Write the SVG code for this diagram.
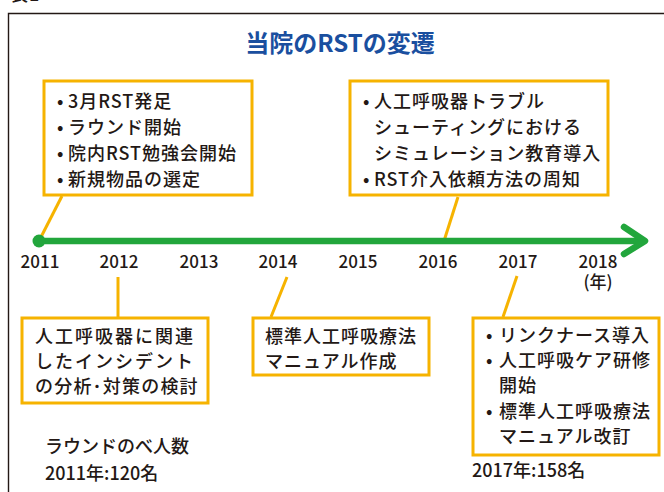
<svg xmlns="http://www.w3.org/2000/svg" width="664" height="492" viewBox="0 0 664 492">
<style>
.t{font-family:"Noto Sans CJK JP","Noto Sans",sans-serif;font-weight:500;fill:#231815;font-size:18px;letter-spacing:1px}
.yr{font-family:"Noto Sans CJK JP","Noto Sans",sans-serif;font-weight:500;fill:#231815;font-size:17px;text-anchor:middle}
.box{fill:#fff;stroke:#f6b300;stroke-width:3}
.con{stroke:#f6b300;stroke-width:3;fill:none}
.title{font-family:"Noto Sans CJK JP","Noto Sans",sans-serif;font-weight:700;fill:#1a4f9f;font-size:24px;text-anchor:middle}
</style>
<rect width="664" height="492" fill="#fff"/>
<text class="t" x="10" y="1" font-size="16">表1</text>
<path d="M8.5 492V13.5H664" fill="none" stroke="#231815" stroke-width="1.4"/>
<text class="title" x="340" y="52">当院のRSTの変遷</text>

<g id="connectors">
<line class="con" x1="62" y1="196" x2="40" y2="239"/>
<line class="con" x1="458" y1="197" x2="444" y2="241"/>
<line class="con" x1="118" y1="277" x2="118" y2="317"/>
<line class="con" x1="287" y1="277" x2="271" y2="317"/>
<line class="con" x1="517" y1="276" x2="503" y2="317"/>
</g>

<g id="timeline">
<line x1="39" y1="241" x2="644" y2="241" stroke="#22a63c" stroke-width="6.5"/>
<polyline points="624,227 645,241 624,254" fill="none" stroke="#22a63c" stroke-width="6.5" stroke-linecap="round" stroke-linejoin="round"/>
<circle cx="39" cy="241" r="6.5" fill="#22a63c"/>
<text class="yr" x="40" y="268">2011</text>
<text class="yr" x="119" y="268">2012</text>
<text class="yr" x="199" y="268">2013</text>
<text class="yr" x="278" y="268">2014</text>
<text class="yr" x="358" y="268">2015</text>
<text class="yr" x="438" y="268">2016</text>
<text class="yr" x="518" y="268">2017</text>
<text class="yr" x="598" y="268">2018</text>
<text class="yr" x="598" y="288" font-size="14">(年)</text>
</g>

<g id="box2011">
<rect class="box" x="44" y="81" width="208" height="114"/>
<text class="t" y="108"><tspan x="57">•</tspan><tspan x="68">3月RST発足</tspan></text>
<text class="t" y="134"><tspan x="57">•</tspan><tspan x="68">ラウンド開始</tspan></text>
<text class="t" y="160"><tspan x="57">•</tspan><tspan x="68">院内RST勉強会開始</tspan></text>
<text class="t" y="186"><tspan x="57">•</tspan><tspan x="68">新規物品の選定</tspan></text>
</g>

<g id="box2016">
<rect class="box" x="350" y="81" width="258" height="114"/>
<text class="t" y="108"><tspan x="363">•</tspan><tspan x="374">人工呼吸器トラブル</tspan></text>
<text class="t" y="134" x="374">シューティングにおける</text>
<text class="t" y="160" x="374">シミュレーション教育導入</text>
<text class="t" y="186"><tspan x="363">•</tspan><tspan x="374">RST介入依頼方法の周知</tspan></text>
</g>

<g id="box2012">
<rect class="box" x="22" y="318" width="186" height="85"/>
<text class="t" x="35" y="343" style="letter-spacing:2px">人工呼吸器に関連</text>
<text class="t" x="35" y="368" style="letter-spacing:2px">したインシデント</text>
<text class="t" x="35" y="393" style="letter-spacing:1.2px">の分析･対策の検討</text>
</g>

<g id="box2014">
<rect class="box" x="253" y="318" width="176" height="57"/>
<text class="t" x="265" y="343">標準人工呼吸療法</text>
<text class="t" x="265" y="368">マニュアル作成</text>
</g>

<g id="box2017">
<rect class="box" x="473" y="318" width="186" height="137"/>
<text class="t" y="342"><tspan x="486">•</tspan><tspan x="499">リンクナース導入</tspan></text>
<text class="t" y="367"><tspan x="486">•</tspan><tspan x="499">人工呼吸ケア研修</tspan></text>
<text class="t" y="392" x="499">開始</text>
<text class="t" y="418"><tspan x="486">•</tspan><tspan x="499">標準人工呼吸療法</tspan></text>
<text class="t" y="443" x="499">マニュアル改訂</text>
</g>

<g id="stats">
<text class="t" x="45" y="453" font-size="17" style="letter-spacing:0">ラウンドのべ人数</text>
<text class="t" x="45" y="480" font-size="17" style="letter-spacing:0">2011年:120名</text>
<text class="t" x="472" y="477" font-size="17" style="letter-spacing:0">2017年:158名</text>
</g>
</svg>
